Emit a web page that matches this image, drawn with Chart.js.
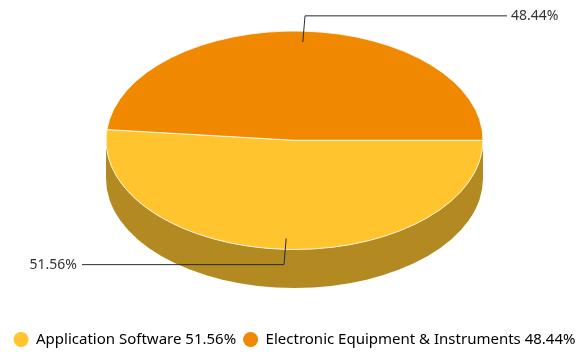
<!DOCTYPE html>
<html>
<head>
<meta charset="utf-8">
<script src="https://cdn.jsdelivr.net/npm/chart.js@4/dist/chart.umd.min.js"></script>
<style>
  html, body { margin: 0; padding: 0; background: #fff; }
  #wrap { width: 583px; height: 352px; }
</style>
</head>
<body>
<div id="wrap"><canvas id="c" width="583" height="352"></canvas></div>
<script>
const categories = ['Application Software', 'Electronic Equipment & Instruments'];
const values = [51.56, 48.44];
const topColors = ['#FFC42E', '#F08800'];
const sideColors = ['#B38A22', '#A35F00'];

const FONT = "'Noto Sans', 'Open Sans', sans-serif";
const TILT = 109.25 / 188.5;   // vertical squash of the pie
const DEPTH = 38.5;            // thickness of the 3D side
const LIFT = 3;                // extra upward shift of the pie

function ellipseGeom(meta) {
  const el = meta.data[0];
  return { cx: el.x, cy: el.y, ey: el.y - DEPTH / 2 - LIFT, rx: el.outerRadius, ry: el.outerRadius * TILT };
}

const pie3d = {
  id: 'pie3d',
  beforeDatasetsDraw(chart) {
    const ctx = chart.ctx;
    const meta = chart.getDatasetMeta(0);
    const g = ellipseGeom(meta);
    meta.data.forEach((el, i) => {
      const s = el.startAngle, e = el.endAngle;
      [[0, Math.PI], [2 * Math.PI, 3 * Math.PI], [-2 * Math.PI, -Math.PI]].forEach(([lo, hi]) => {
        const a1 = Math.max(s, lo), a2 = Math.min(e, hi);
        if (a2 <= a1) return;
        ctx.save();
        ctx.beginPath();
        ctx.ellipse(g.cx, g.ey, g.rx, g.ry, 0, a1, a2, false);
        ctx.ellipse(g.cx, g.ey + DEPTH, g.rx, g.ry, 0, a2, a1, true);
        ctx.closePath();
        ctx.fillStyle = sideColors[i];
        ctx.fill();
        ctx.restore();
      });
    });
    ctx.save();
    ctx.translate(g.cx, g.ey);
    ctx.scale(1, TILT);
    ctx.translate(-g.cx, -g.cy);
  },
  afterDatasetsDraw(chart) {
    const ctx = chart.ctx;
    ctx.restore();
    const meta = chart.getDatasetMeta(0);
    const g = ellipseGeom(meta);
    meta.data.forEach((el, i) => {
      const mid = (el.startAngle + el.endAngle) / 2;
      const c = Math.cos(mid), s = Math.sin(mid);
      const ax = g.cx + g.rx * 0.9 * c, ay = g.ey + g.ry * 0.9 * s;
      const bx = g.cx + g.rx * 1.14 * c, by = g.ey + g.ry * 1.14 * s;
      const right = c >= 0;
      const endX = g.cx + (right ? 1 : -1) * (g.rx + 24);
      ctx.save();
      ctx.beginPath();
      ctx.moveTo(ax, ay);
      ctx.lineTo(bx, by);
      ctx.lineTo(endX, by);
      ctx.strokeStyle = '#1f2d3b';
      ctx.lineWidth = 1;
      ctx.stroke();
      ctx.fillStyle = '#333333';
      ctx.font = '14px ' + FONT;
      ctx.textBaseline = 'middle';
      ctx.textAlign = right ? 'left' : 'right';
      ctx.fillText(values[i].toFixed(2) + '%', endX + (right ? 4 : -5), by + 0.5);
      ctx.restore();
    });
  }
};

new Chart(document.getElementById('c'), {
  type: 'pie',
  data: {
    labels: categories,
    datasets: [{
      data: values,
      backgroundColor: topColors,
      borderColor: '#ffffff',
      borderWidth: 1
    }]
  },
  options: {
    responsive: false,
    animation: false,
    rotation: 90,
    radius: 188.5,
    layout: { padding: { left: 6, right: 0, top: 0, bottom: -5 } },
    plugins: {
      tooltip: { enabled: false },
      legend: {
        position: 'bottom',
        labels: {
          usePointStyle: true,
          pointStyle: 'circle',
          boxHeight: 10.6,
          pointStyleWidth: 15,
          padding: 7,
          color: '#444444',
          font: { family: FONT, size: 15 },
          generateLabels(chart) {
            return categories.map((c, i) => ({
              text: c + ' ' + values[i].toFixed(2) + '%',
              fillStyle: topColors[i],
              strokeStyle: topColors[i],
              lineWidth: 0,
              pointStyle: 'circle',
              hidden: false,
              index: i,
              datasetIndex: 0
            }));
          }
        }
      }
    }
  },
  plugins: [pie3d]
});
</script>
</body>
</html>
